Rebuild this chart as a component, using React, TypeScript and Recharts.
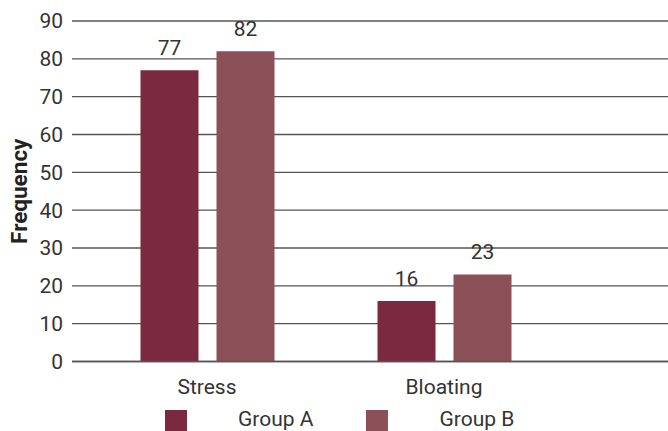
import { BarChart, Bar, XAxis, YAxis, CartesianGrid, LabelList } from "recharts"

const symptoms = ["Stress", "Bloating"]
const groupA = [77, 16]
const groupB = [82, 23]
const yTicks = [0, 10, 20, 30, 40, 50, 60, 70, 80, 90]

const series = [
  { key: "groupA", name: "Group A", color: "#7a2940" },
  { key: "groupB", name: "Group B", color: "#8c5058" },
]

const data = symptoms.map((symptom, i) => ({
  symptom,
  groupA: groupA[i],
  groupB: groupB[i],
}))

const FONT = "Roboto, 'DejaVu Sans', sans-serif"
const TEXT = "#333333"

// legend row sits under the category labels, square then name
function Legend() {
  return (
    <div
      style={{
        position: "absolute",
        top: 410,
        left: 165,
        display: "flex",
        fontFamily: FONT,
        fontSize: 21,
        color: TEXT,
        lineHeight: "19px",
      }}
    >
      {series.map((s) => (
        <div key={s.key} style={{ display: "flex", alignItems: "flex-start", marginRight: 53 }}>
          <div style={{ width: 22, height: 22, background: s.color, marginRight: 51 }} />
          <span>{s.name}</span>
        </div>
      ))}
    </div>
  )
}

export default function App() {
  return (
    <div style={{ position: "absolute", left: 0, top: 0, width: 668, height: 431, background: "#fff", overflow: "hidden" }}>
      <BarChart
        width={668}
        height={431}
        data={data}
        margin={{ top: 21, right: 0, bottom: 0, left: 0 }}
        barSize={58}
        barGap={18}
      >
        <CartesianGrid vertical={false} stroke="#555" strokeWidth={1.4} />
        <XAxis
          dataKey="symptom"
          height={69.5}
          padding={{ left: 16.5, right: 105.5 }}
          axisLine={{ stroke: "#555", strokeWidth: 1.4 }}
          tickLine={false}
          tickSize={0}
          tickMargin={18}
          tick={{ fill: TEXT, fontSize: 21, fontFamily: FONT }}
        />
        <YAxis
          width={72}
          domain={[0, 90]}
          ticks={yTicks}
          axisLine={false}
          tickLine={false}
          tickSize={0}
          tickMargin={9}
          tick={{ fill: TEXT, fontSize: 21, fontFamily: FONT }}
          label={{
            value: "Frequency",
            angle: -90,
            position: "center",
            dx: -16.5,
            fill: "#222",
            fontSize: 22.5,
            fontWeight: 700,
            fontFamily: FONT,
          }}
        />
        {series.map((s) => (
          <Bar key={s.key} dataKey={s.key} name={s.name} fill={s.color} isAnimationActive={false}>
            <LabelList
              dataKey={s.key}
              position="top"
              offset={15}
              fill={TEXT}
              fontSize={21}
              fontFamily={FONT}
            />
          </Bar>
        ))}
      </BarChart>
      <Legend />
    </div>
  )
}
